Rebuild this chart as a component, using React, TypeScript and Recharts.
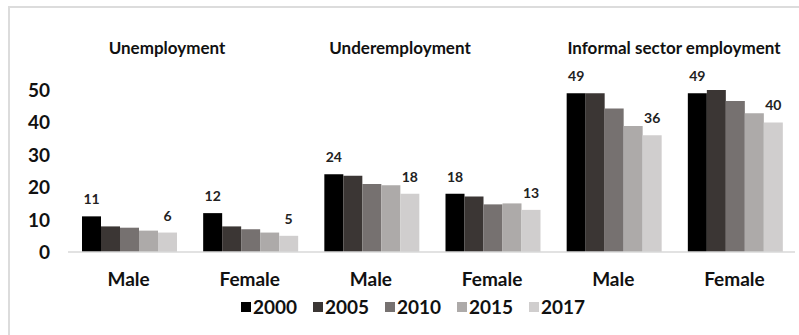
import { BarChart, Bar, XAxis, YAxis, LabelList } from 'recharts'

// gender groups, two per indicator
const categories = ['Male', 'Female', 'Male', 'Female', 'Male', 'Female']
const sections = ['Unemployment', 'Underemployment', 'Informal sector employment']
const years = ['2000', '2005', '2010', '2015', '2017']

const y2000 = [11, 12, 24, 18, 49, 49]
const y2005 = [7.9, 7.9, 23.5, 17.1, 49, 50]
const y2010 = [7.5, 7, 21, 14.7, 44.3, 46.6]
const y2015 = [6.6, 6, 20.6, 15, 38.9, 42.8]
const y2017 = [6, 5, 18, 13, 36, 40]

const yTicks = [0, 10, 20, 30, 40, 50]

const COLORS = ['#000000', '#3b3634', '#767170', '#adaaa9', '#d0cece']
const FONT = 'Lato, "Open Sans", sans-serif'

const series = [y2000, y2005, y2010, y2015, y2017]
const data = categories.map((c, i) => {
  const row: Record<string, string | number> = { key: `${c}-${i}`, name: c }
  years.forEach((y, j) => { row[y] = series[j][i] })
  return row
})

// section titles sit above their pair of groups
const titlePos = [167, 400, 674]

const ValueLabel = (props: any) => {
  const { x, y, width, value } = props
  return (
    <text x={x + width / 2} y={y - 12} textAnchor="middle" fontFamily={FONT} fontWeight={700}
      fontSize={14} fill="#222">{value}</text>
  )
}

const XTick = (props: any) => {
  const { x, y, payload } = props
  return (
    <text x={x} y={y + 26} textAnchor="middle" fontFamily={FONT} fontWeight={700} fontSize={19} fill="#111">
      {categories[payload.index]}
    </text>
  )
}

const YTick = (props: any) => {
  const { y, payload } = props
  return (
    <text x={50} y={y + 7} textAnchor="end" fontFamily={FONT} fontWeight={700} fontSize={19} fill="#111">
      {payload.value}
    </text>
  )
}

export default function App() {
  return (
    <div style={{ position: 'absolute', left: 0, top: 0, width: 799, height: 335, background: '#fff', overflow: 'hidden' }}>
      <div style={{ position: 'absolute', left: 8, top: 6, width: 820, height: 360, borderTop: '2px solid #dcdcdc', borderLeft: '2px solid #dcdcdc' }} />
      <BarChart width={799} height={335} data={data} margin={{ top: 90, right: 4, bottom: 0, left: 0 }}
        barCategoryGap={14} barGap={0} style={{ position: 'absolute', left: 0, top: 0 }}>
        <XAxis dataKey="key" axisLine={{ stroke: '#d9d9d9', strokeWidth: 1.5 }} tickLine={false} tick={<XTick />} interval={0} height={83} />
        <YAxis type="number" domain={[0, 50]} ticks={yTicks} interval={0} axisLine={false} tickLine={false} tick={<YTick />} width={68} allowDataOverflow />
        {years.map((y, j) => (
          <Bar key={y} dataKey={y} fill={COLORS[j]} isAnimationActive={false}>
            {(j === 0 || j === years.length - 1) && <LabelList dataKey={y} content={<ValueLabel />} />}
          </Bar>
        ))}
      </BarChart>
      {sections.map((s, i) => (
        <div key={s} style={{ position: 'absolute', top: 37, left: titlePos[i] - 150, width: 300, textAlign: 'center',
          fontFamily: FONT, fontWeight: 700, fontSize: 17, color: '#111' }}>{s}</div>
      ))}
      <div style={{ position: 'absolute', top: 295, left: 241, display: 'flex', fontFamily: FONT, fontWeight: 700, fontSize: 19, color: '#111' }}>
        {years.map((y, j) => (
          <div key={y} style={{ display: 'flex', alignItems: 'center', width: 72 }}>
            <span style={{ display: 'inline-block', width: 10, height: 10, background: COLORS[j], marginRight: 2 }} />
            <span>{y}</span>
          </div>
        ))}
      </div>
    </div>
  )
}
